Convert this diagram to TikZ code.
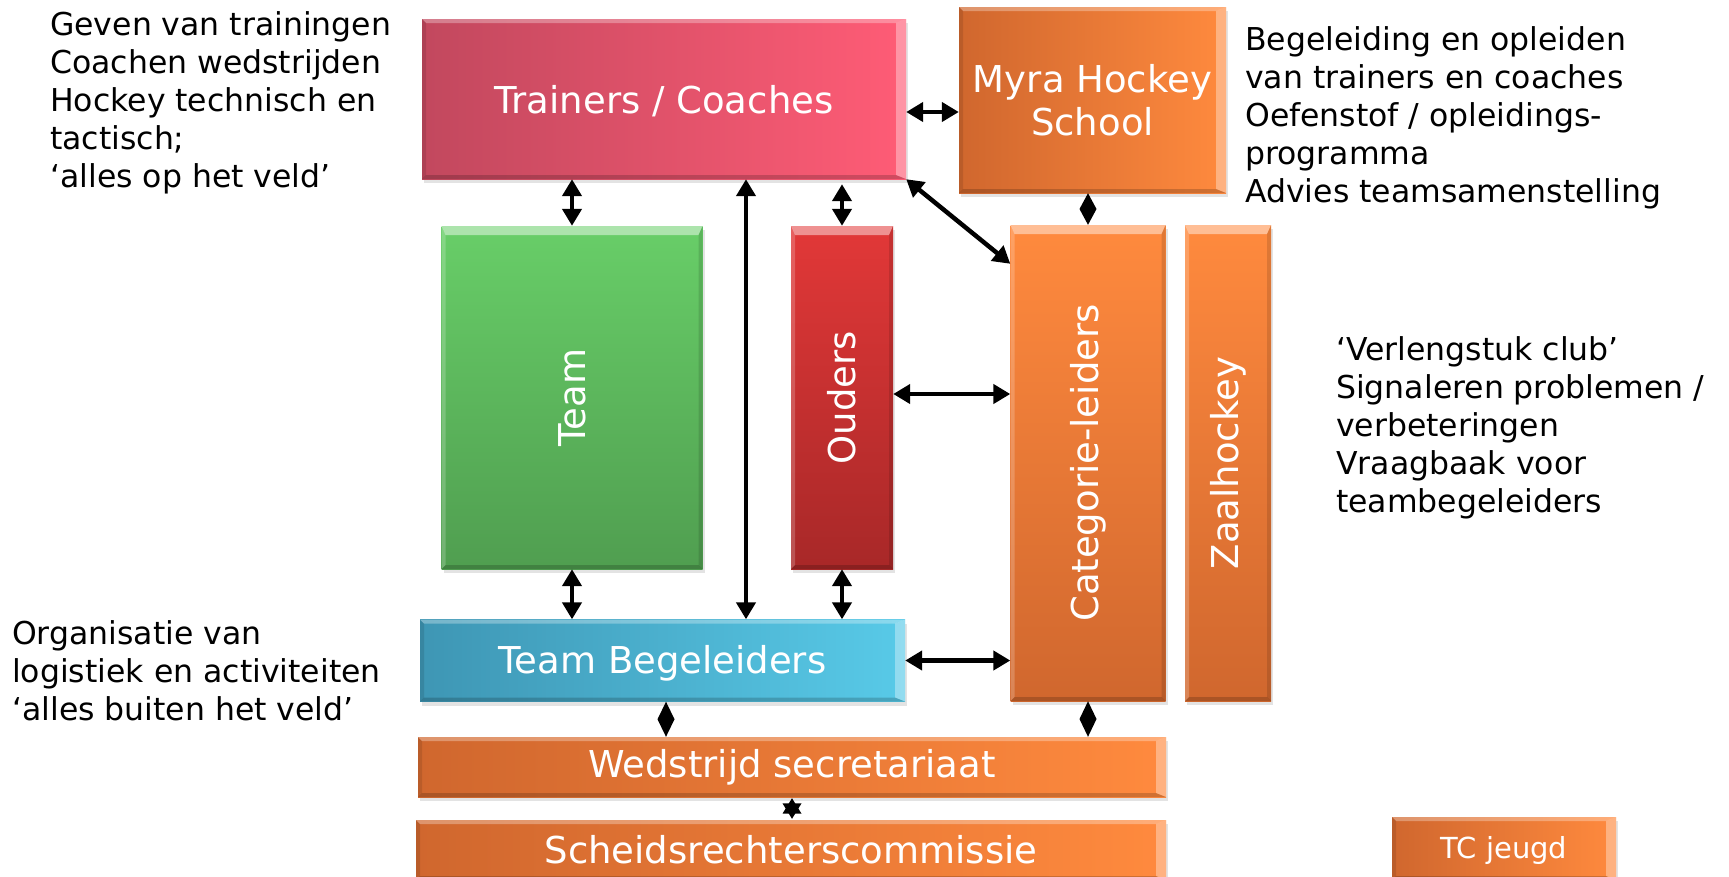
\documentclass[tikz,border=0pt]{standalone}
\usepackage{fontspec}
\setmainfont{DejaVu Sans}
\usepackage{graphicx}
\usetikzlibrary{arrows.meta,shadows,calc}
\newcommand\ppb{path picture bounding box}
\newcommand\lowertext[2]{\raisebox{-#1}[\height][\depth]{#2}}
\definecolor{trL}{RGB}{194,72,94}
\definecolor{trR}{RGB}{255,92,118}
\definecolor{orL}{RGB}{208,103,46}
\definecolor{orR}{RGB}{255,138,62}
\definecolor{grT}{RGB}{104,206,104}
\definecolor{grB}{RGB}{80,158,80}
\definecolor{rdT}{RGB}{226,56,56}
\definecolor{rdB}{RGB}{168,40,40}
\definecolor{blL}{RGB}{62,150,180}
\definecolor{blR}{RGB}{88,202,232}
\begin{document}
\begin{tikzpicture}[x=1pt,y=-1pt,
  box/.style={rectangle, inner sep=0pt, text=white, align=center,
    font=\fontsize{37}{43}\selectfont,
    drop shadow={shadow xshift=2pt,shadow yshift=-4pt,opacity=.22}},
  hbev/.style={path picture={
    \fill[white,opacity=.35] (\ppb.north east) -- ([xshift=-10pt,yshift=-4pt]\ppb.north east) -- ([xshift=-10pt,yshift=4pt]\ppb.south east) -- (\ppb.south east) -- cycle;
    \fill[white,opacity=.3] (\ppb.north west) -- (\ppb.north east) -- ([xshift=-10pt,yshift=-4pt]\ppb.north east) -- ([xshift=4pt,yshift=-4pt]\ppb.north west) -- cycle;
    \fill[black,opacity=.18] (\ppb.south west) -- (\ppb.south east) -- ([xshift=-10pt,yshift=4pt]\ppb.south east) -- ([xshift=4pt,yshift=4pt]\ppb.south west) -- cycle;
    \fill[black,opacity=.1] (\ppb.north west) -- ([xshift=4pt,yshift=-4pt]\ppb.north west) -- ([xshift=4pt,yshift=4pt]\ppb.south west) -- (\ppb.south west) -- cycle;
  }},
  vbev/.style={path picture={
    \fill[white,opacity=.45] (\ppb.north west) -- (\ppb.north east) -- ([xshift=-4pt,yshift=-9pt]\ppb.north east) -- ([xshift=4pt,yshift=-9pt]\ppb.north west) -- cycle;
    \fill[white,opacity=.2] (\ppb.north west) -- ([xshift=4pt,yshift=-9pt]\ppb.north west) -- ([xshift=4pt,yshift=4pt]\ppb.south west) -- (\ppb.south west) -- cycle;
    \fill[black,opacity=.12] (\ppb.north east) -- ([xshift=-4pt,yshift=-9pt]\ppb.north east) -- ([xshift=-4pt,yshift=4pt]\ppb.south east) -- (\ppb.south east) -- cycle;
    \fill[black,opacity=.18] (\ppb.south west) -- (\ppb.south east) -- ([xshift=-4pt,yshift=4pt]\ppb.south east) -- ([xshift=4pt,yshift=4pt]\ppb.south west) -- cycle;
  }},
  orh/.style={box, hbev, left color=orL, right color=orR},
  orv/.style={box, vbev, top color=orR, bottom color=orL},
  side/.style={inner sep=0pt, anchor=base west, font=\fontsize{31.5}{38}\selectfont},
  conn/.style={line width=4.5pt, {Triangle[length=17pt,width=19pt]}-{Triangle[length=17pt,width=19pt]}}
]
\useasboundingbox (0,0) rectangle (1729,876);
\clip (0,0) rectangle (1729,876);

% boxes
\node[box, hbev, left color=trL, right color=trR, minimum width=484pt, minimum height=160pt]
  (trainers) at (664,99) {\lowertext{2pt}{Trainers / Coaches}};
\node[orh, minimum width=267pt, minimum height=186pt] (myra) at (1092.5,100) {Myra Hockey\\School};
\node[box, vbev, top color=grT, bottom color=grB, minimum width=261pt, minimum height=343pt]
  (team) at (572,397.5) {\rotatebox{90}{Team}};
\node[box, vbev, top color=rdT, bottom color=rdB, minimum width=102pt, minimum height=343pt]
  (ouders) at (842,397.5) {\rotatebox{90}{Ouders}};
\node[orv, minimum width=155pt, minimum height=476pt] (cat) at (1088,463) {\rotatebox{90}{Categorie-leiders}};
\node[orv, minimum width=86pt, minimum height=476pt] (zaal) at (1228,463) {\rotatebox{90}{Zaalhockey}};
\node[box, hbev, left color=blL, right color=blR, minimum width=485pt, minimum height=82pt]
  (teambeg) at (662.5,660.5) {\lowertext{3pt}{Team Begeleiders}};
\node[orh, minimum width=748pt, minimum height=60pt] (wed) at (792,767) {Wedstrijd secretariaat};
\node[orh, minimum width=750pt, minimum height=60pt] (scheids) at (791,850) {Scheidsrechterscommissie};
\node[orh, minimum width=224pt, minimum height=63pt, font=\fontsize{29}{34}\selectfont] (tc) at (1504,848.5) {\lowertext{2pt}{TC jeugd}};

% connectors
\draw[conn] ([yshift=-13pt]trainers.east) -- ([yshift=-13pt]trainers.east -| myra.west);
\draw[conn] (trainers.south -| team.north) -- (team.north);
\draw[conn] ([xshift=83.5pt]teambeg.north) -- ([xshift=83.5pt]teambeg.north |- trainers.south);
\draw[conn] ([yshift=-5pt]trainers.south -| ouders.north) -- (ouders.north);
\draw[conn] (trainers.south east) -- ([yshift=-39pt]cat.north west);
\draw[conn] ([yshift=3.5pt]ouders.east) -- ([yshift=3.5pt]ouders.east -| cat.west);
\draw[conn] (team.south) -- (team.south |- teambeg.north);
\draw[conn] (ouders.south) -- (ouders.south |- teambeg.north);
\draw[conn] (teambeg.east) -- (teambeg.east -| cat.west);

% diamond connectors (two heads back to back)
\coordinate (d1a) at (cat.north |- myra.south);
\coordinate (d1b) at (cat.north);
\fill (d1a) -- ($(d1a)!0.5!(d1b)+(8.5,0)$) -- (d1b) -- ($(d1a)!0.5!(d1b)+(-8.5,0)$) -- cycle;
\coordinate (d2a) at ([xshift=3.5pt]teambeg.south);
\coordinate (d2b) at ([xshift=3.5pt]teambeg.south |- wed.north);
\fill (d2a) -- ($(d2a)!0.5!(d2b)+(8.5,0)$) -- (d2b) -- ($(d2a)!0.5!(d2b)+(-8.5,0)$) -- cycle;
\coordinate (d3a) at (cat.south);
\coordinate (d3b) at (cat.south |- wed.north);
\fill (d3a) -- ($(d3a)!0.5!(d3b)+(8.5,0)$) -- (d3b) -- ($(d3a)!0.5!(d3b)+(-8.5,0)$) -- cycle;
% star connector
\coordinate (s1a) at ([yshift=-1pt]wed.south);
\coordinate (s1b) at ([yshift=1pt]wed.south |- scheids.north);
\fill (s1a) -- ($(s1a)!0.75!(s1b)+(9.5,0)$) -- ($(s1a)!0.75!(s1b)+(-9.5,0)$) -- cycle;
\fill (s1b) -- ($(s1b)!0.75!(s1a)+(9.5,0)$) -- ($(s1b)!0.75!(s1a)+(-9.5,0)$) -- cycle;

% side texts
\node[side] (txtTrainers) at (50,35) {\begin{tabular}[t]{@{}l@{}}Geven van trainingen\\Coachen wedstrijden\\Hockey technisch en\\tactisch;\\‘alles op het veld’\end{tabular}};
\node[side] (txtMyra) at (1245,50) {\begin{tabular}[t]{@{}l@{}}Begeleiding en opleiden\\van trainers en coaches\\Oefenstof / opleidings-\\programma\\Advies teamsamenstelling\end{tabular}};
\node[side] (txtCat) at (1336,360) {\begin{tabular}[t]{@{}l@{}}‘Verlengstuk club’\\Signaleren problemen /\\verbeteringen\\Vraagbaak voor\\teambegeleiders\end{tabular}};
\node[side] (txtTB) at (12,644) {\begin{tabular}[t]{@{}l@{}}Organisatie van\\logistiek en activiteiten\\‘alles buiten het veld’\end{tabular}};
\end{tikzpicture}
\end{document}
